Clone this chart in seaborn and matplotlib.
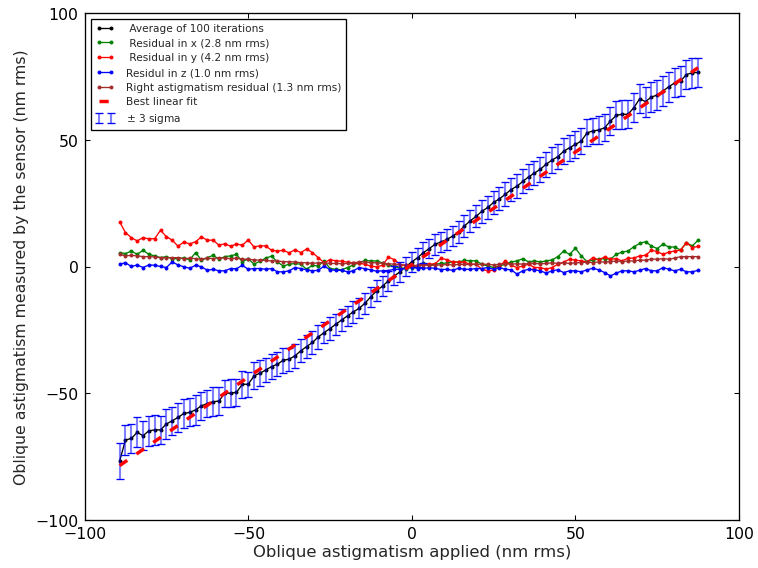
import numpy as np
import pandas as pd
import matplotlib
matplotlib.use("Agg")
import matplotlib.pyplot as plt
import seaborn as sns

# ---------------- data ----------------
applied = np.linspace(-89.4, 87.5, 100)

average = [-76.7, -68.4, -67.8, -65.4, -66.7, -64.8, -64.4, -64.4, -62.1, -60.8,
           -59.5, -57.9, -57.5, -56.5, -54.9, -54.0, -53.3, -53.0, -49.9, -49.9,
           -49.6, -46.4, -46.4, -43.1, -42.0, -40.8, -39.4, -38.5, -36.9, -36.5,
           -35.2, -33.2, -31.5, -29.9, -27.7, -26.0, -24.4, -22.7, -21.0, -19.4,
           -17.8, -16.4, -14.4, -11.8, -9.5, -7.6, -5.6, -3.6, -2.0, 0.1,
           1.9, 3.6, 5.6, 7.2, 8.9, 9.8, 10.8, 12.1, 13.7, 16.1,
           18.1, 19.9, 21.9, 23.4, 25.4, 26.8, 28.6, 30.5, 31.8, 33.7,
           35.5, 37.0, 38.5, 40.5, 42.1, 43.5, 45.6, 47.0, 48.3, 49.6,
           52.9, 53.6, 54.0, 54.9, 57.5, 59.8, 60.2, 60.2, 62.8, 66.3,
           65.2, 67.0, 67.8, 69.4, 71.1, 72.6, 73.3, 75.9, 76.6, 76.7]

sigma3 = [7.0, 5.8, 5.6, 5.9, 5.7, 6.0, 5.8, 5.5, 5.9, 5.6,
          5.8, 5.7, 5.5, 5.9, 5.6, 5.4, 5.7, 5.5, 5.3, 5.6,
          5.2, 5.4, 5.0, 5.3, 5.1, 4.9, 5.0, 4.8, 4.9, 4.6,
          4.8, 4.5, 4.7, 4.4, 4.6, 4.3, 4.5, 4.2, 4.4, 4.1,
          4.3, 4.0, 4.2, 3.9, 4.1, 3.8, 4.0, 3.8, 3.9, 3.7,
          3.9, 3.8, 4.0, 3.9, 4.1, 4.0, 4.2, 4.1, 4.3, 4.2,
          4.4, 4.3, 4.5, 4.4, 4.6, 4.5, 4.7, 4.6, 4.8, 4.7,
          4.9, 4.8, 5.0, 4.9, 5.1, 5.0, 5.2, 5.1, 5.3, 5.2,
          5.4, 5.3, 5.5, 5.4, 5.6, 5.5, 5.7, 5.6, 5.8, 5.7,
          5.9, 5.8, 6.0, 5.8, 5.9, 5.7, 6.0, 5.8, 5.9, 5.9]

res_x = [5.6, 5.2, 6.2, 4.9, 6.5, 4.9, 4.3, 3.6, 4.0, 3.2,
         3.2, 3.5, 2.7, 5.6, 2.6, 3.6, 4.5, 3.0, 4.0, 4.3,
         4.9, 1.9, 3.2, 1.0, 2.2, 3.4, 4.2, 1.9, 0.3, 1.0,
         1.3, 1.0, -1.0, 0.6, 0.3, 2.3, -0.7, -1.0, -1.2, -0.3,
         0.7, 1.6, 2.5, 2.3, 2.3, 1.5, 0.7, 0.1, -0.5, -0.7,
         -0.3, 0.5, 1.5, 0.7, 1.0, 1.3, 1.5, 1.9, 1.8, 2.5,
         2.4, 2.3, 1.0, 0.3, -0.3, 0.3, 1.0, 1.9, 2.3, 3.2,
         1.9, 2.3, 1.9, 2.3, 2.7, 4.0, 6.2, 4.9, 7.3, 4.3,
         2.0, 2.7, 3.0, 3.2, 3.0, 4.9, 5.8, 6.2, 7.9, 9.2,
         9.9, 8.2, 7.2, 8.9, 7.8, 7.8, 6.6, 9.5, 8.2, 10.5]

res_y = [17.7, 13.5, 11.5, 10.2, 11.5, 11.0, 11.1, 14.4, 11.9, 10.5,
         8.1, 9.8, 9.0, 9.9, 11.8, 10.5, 10.5, 8.5, 9.1, 8.1,
         9.0, 8.5, 10.6, 7.8, 8.3, 8.2, 6.5, 6.2, 6.5, 5.5,
         6.7, 5.6, 7.0, 5.6, 3.6, 1.6, 2.8, 2.3, 2.2, 1.8,
         1.5, 1.4, 1.0, 0.2, 0.0, 0.6, 3.8, 2.8, 0.8, 0.5,
         0.5, 0.2, 1.2, 1.0, 1.2, 3.3, 2.8, 1.8, 1.9, 1.8,
         1.0, 1.0, -1.0, -1.6, -1.4, 0.3, 2.3, 0.6, -0.3, 0.3,
         1.0, -0.3, -0.3, -1.0, -0.3, 1.0, 1.8, 3.0, 2.6, 2.3,
         2.0, 3.6, 2.7, 3.9, 3.0, 3.2, 2.3, 3.4, 3.4, 4.3,
         4.5, 6.5, 6.0, 4.9, 5.8, 6.2, 6.6, 9.5, 7.6, 8.0]

res_z = [1.0, 1.6, 0.1, 0.7, -0.3, 0.7, 0.6, 0.1, -0.3, 1.9,
         0.7, 0.0, -0.6, 0.6, 0.0, -1.4, -1.0, -1.6, -1.6, -0.7,
         -0.8, 0.6, -1.0, -0.7, -0.7, -1.0, -0.7, -2.0, -2.0, -1.6,
         -0.3, -0.7, -1.2, -1.6, -1.4, 0.3, -1.2, -1.4, -1.4, -2.0,
         -1.6, -0.3, -0.8, -1.2, -1.8, -1.6, -1.5, -1.0, -1.0, -0.5,
         0.0, -0.7, -0.6, -0.4, -0.6, -1.1, -1.0, -1.4, -0.6, -1.0,
         -1.0, -0.7, -0.7, -0.3, -1.0, -0.3, -1.0, -1.2, -2.9, -1.6,
         -1.0, -1.2, -1.6, -2.5, -1.6, -1.2, -2.3, -1.6, -1.6, -2.0,
         -1.2, -0.6, -1.2, -2.3, -3.6, -2.5, -1.6, -1.6, -2.0, -1.4,
         -0.7, -1.6, -1.6, -0.3, -1.0, -1.6, -1.0, -2.0, -2.0, -1.4]

right_astig = [4.9, 4.3, 4.5, 4.3, 4.0, 4.0, 3.9, 3.6, 3.6, 3.6,
               3.6, 3.2, 3.4, 3.2, 3.0, 3.4, 3.2, 3.6, 3.4, 3.2,
               3.4, 3.0, 3.0, 2.7, 2.6, 2.5, 2.3, 2.3, 2.0, 2.0,
               1.9, 1.6, 1.6, 1.3, 1.6, 1.6, 1.3, 1.3, 1.2, 1.3,
               1.6, 1.9, 1.9, 1.6, 1.6, 1.3, 1.2, 1.0, 0.7, 0.7,
               0.5, 0.5, 0.7, 0.5, 0.7, 0.7, 0.9, 0.7, 0.9, 0.9,
               0.9, 1.0, 0.9, 1.0, 0.7, 1.0, 1.2, 1.0, 1.2, 1.0,
               1.3, 1.3, 1.2, 1.3, 1.6, 1.3, 1.6, 1.3, 1.6, 1.6,
               1.9, 1.6, 1.9, 1.9, 2.0, 2.3, 2.0, 2.3, 2.3, 2.6,
               2.6, 3.0, 3.0, 3.2, 3.0, 3.4, 4.0, 4.0, 4.0, 4.0]

fit_x = [-89.4, 87.5]
fit_y = [-78.5, 78.6]

labels = [" Average of 100 iterations",
          " Residual in x (2.8 nm rms)",
          " Residual in y (4.2 nm rms)",
          "Residul in z (1.0 nm rms)",
          "Right astigmatism residual (1.3 nm rms)",
          "Best linear fit",
          r"$\pm$ 3 sigma"]

x_ticks = [-100, -50, 0, 50, 100]
y_ticks = [-100, -50, 0, 50, 100]

# ---------------- style ----------------
sns.set_theme(style="white")
plt.rcParams.update({
    "font.family": ["DejaVu Sans"],
    "axes.edgecolor": "black",
    "axes.linewidth": 1.0,
    "xtick.direction": "in",
    "ytick.direction": "in",
    "xtick.top": True,
    "ytick.right": True,
    "xtick.bottom": True,
    "ytick.left": True,
    "xtick.major.size": 4,
    "ytick.major.size": 4,
    "xtick.major.width": 0.8,
    "ytick.major.width": 0.8,
    "xtick.major.pad": 5,
    "ytick.major.pad": 5,
    "xtick.color": "black",
    "ytick.color": "black",
    "xtick.labelsize": 12,
    "ytick.labelsize": 12,
    "axes.labelsize": 12,
    "lines.scale_dashes": False,
})

fig = plt.figure(figsize=(8, 6), dpi=94.75)
ax = fig.add_axes([0.1121, 0.0844, 0.8628, 0.8910])

df = pd.DataFrame({"applied": applied, "average": average, "sigma3": sigma3,
                   "res_x": res_x, "res_y": res_y, "res_z": res_z,
                   "right": right_astig})

mk = dict(marker=".", markersize=4.5, linewidth=1.0, estimator=None, sort=False)

sns.lineplot(data=df, x="applied", y="average", color="black",
             markeredgecolor="black", markerfacecolor="black",
             label=labels[0], ax=ax, **mk)

eb = ax.errorbar(df["applied"], df["average"], yerr=df["sigma3"], fmt="none",
                 ecolor="blue", elinewidth=1.6, capsize=3.4, capthick=1.0,
                 label=labels[6], zorder=2.5)
for col in eb[2]:
    col.set_alpha(0.5)

series = [("res_x", "green", labels[1]), ("res_y", "red", labels[2]),
          ("res_z", "blue", labels[3]), ("right", "#a52a2a", labels[4])]
for key, colr, lab in series:
    sns.lineplot(data=df, x="applied", y=key, color=colr,
                 markeredgecolor=colr, markerfacecolor=colr,
                 label=lab, ax=ax, **mk)

sns.lineplot(x=fit_x, y=fit_y, color="red", linewidth=2.6,
             linestyle=(0, (7, 8.5)), label=labels[5], ax=ax, zorder=4)

ax.set_xlim(-100, 100)
ax.set_ylim(-100, 100)
ax.set_xticks(x_ticks)
ax.set_yticks(y_ticks)
ax.set_xlabel("Oblique astigmatism applied (nm rms)", fontsize=12.5, labelpad=2)
ax.set_ylabel("Oblique astigmatism measured by the sensor (nm rms)", fontsize=12, labelpad=5)

handles, labs = ax.get_legend_handles_labels()
order = [labs.index(l) for l in labels]
leg = ax.legend([handles[i] for i in order], [labs[i] for i in order],
                loc="upper left", bbox_to_anchor=(0.009, 0.99), borderaxespad=0,
                fontsize=8, numpoints=2, handlelength=1.8, handletextpad=1.1,
                labelspacing=0.45, borderpad=0.45, fancybox=False, framealpha=1,
                edgecolor="black")
leg.get_frame().set_linewidth(1.0)

fig.savefig("out.png", dpi=94.75)
